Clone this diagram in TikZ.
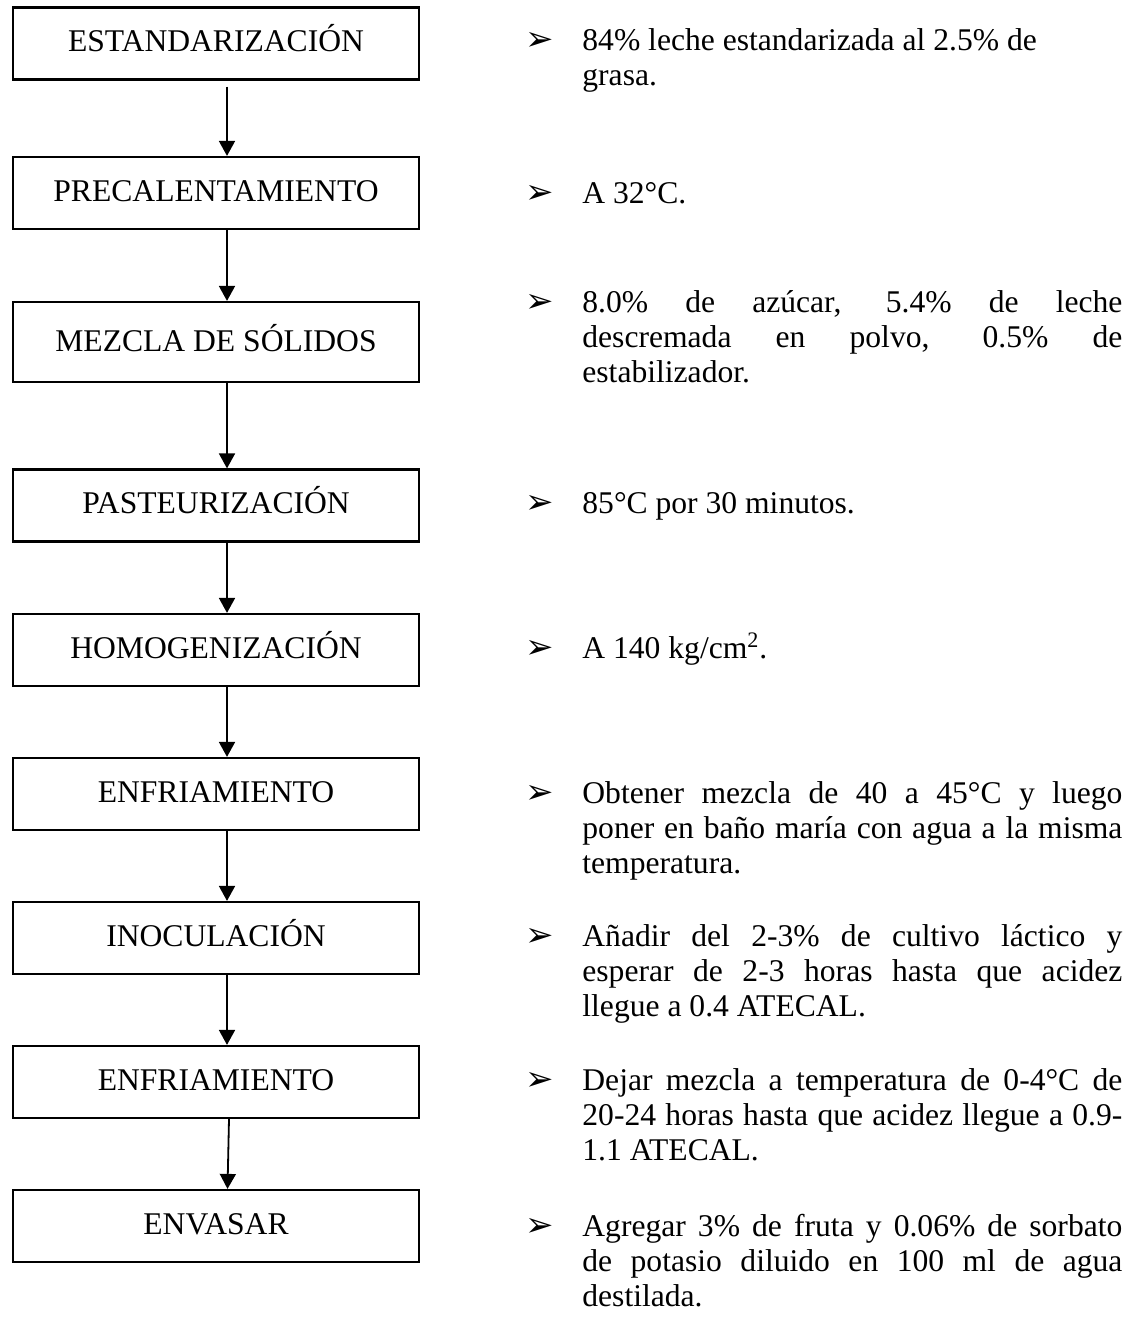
\documentclass[tikz,border=0pt]{standalone}
\usepackage{fontspec}
\setmainfont{Liberation Serif}
\newfontfamily\dingfont{DejaVu Sans}
\usetikzlibrary{arrows.meta,positioning}

\newcommand{\bul}{\llap{{\dingfont\fontsize{17}{17}\selectfont ➢}\hspace{14pt}}}

\begin{document}
\begin{tikzpicture}[x=0.5pt,y=-0.5pt]
			\tikzset{
				stepbox/.style={draw, line width=1.1pt, minimum width=203pt, minimum height=36pt, inner sep=0pt, text height=11.5pt, text depth=3.5pt, font={\fontsize{15.8}{17.5}\selectfont}},
				arrow/.style={-{Triangle[length=7.5pt,width=8pt]}, line width=0.9pt},
				note/.style={anchor=base west, inner sep=0pt, text width=270pt, align=justify, font={\fontsize{15.8}{17.5}\selectfont}},
			}
			\useasboundingbox (0,0) rectangle (1132,1318);

			\node[stepbox] (estand) at (216,43.5) {ESTANDARIZACIÓN};
			\node[stepbox] (precal) at (216,193) {PRECALENTAMIENTO};
			\node[stepbox, minimum height=40pt, text height=12.5pt] (mezcla) at (216,342) {MEZCLA DE SÓLIDOS};
			\node[stepbox] (pasteur) at (216,505.5) {PASTEURIZACIÓN};
			\node[stepbox] (homog) at (216,650) {HOMOGENIZACIÓN};
			\node[stepbox] (enfrA) at (216,794) {ENFRIAMIENTO};
			\node[stepbox] (inoc) at (216,938) {INOCULACIÓN};
			\node[stepbox] (enfrB) at (216,1082) {ENFRIAMIENTO};
			\node[stepbox] (envas) at (216,1226) {ENVASAR};

			\draw[arrow, shorten <=3pt] ([xshift=5.5pt]estand.south) -- ([xshift=5.5pt]precal.north);
			\foreach \a/\b in {precal/mezcla, mezcla/pasteur, pasteur/homog, homog/enfrA, enfrA/inoc, inoc/enfrB}
				{
					\draw[arrow] ([xshift=5.5pt]\a.south) -- ([xshift=5.5pt]\b.north);
				}
			\draw[arrow] ([xshift=6.5pt]enfrB.south) -- ([xshift=5.75pt]envas.north);

			\node[note] (nestand) at (582,50) {\bul 84\% leche estandarizada al 2.5\% de\newline grasa.};
			\node[note] (nprecal) at (582,203) {\bul A 32°C.};
			\node[note] (nmezcla) at (582,312) {\bul 8.0\% de azúcar, 5.4\% de leche\linebreak descremada en polvo, 0.5\% de\linebreak estabilizador.};
			\node[note] (npasteur) at (582,513) {\bul 85°C por 30 minutos.};
			\node[note] (nhomog) at (582,658) {\bul A 140 kg/cm\textsuperscript{2}.};
			\node[note] (nenfrA) at (582,803) {\bul Obtener mezcla de 40 a 45°C y luego\linebreak poner en baño maría con agua a la misma\linebreak temperatura.};
			\node[note] (ninoc) at (582,946) {\bul Añadir del 2-3\% de cultivo láctico y\linebreak esperar de 2-3 horas hasta que acidez\linebreak llegue a 0.4 ATECAL.};
			\node[note] (nenfrB) at (582,1090) {\bul Dejar mezcla a temperatura de 0-4°C de\linebreak 20-24 horas hasta que acidez llegue a 0.9-\linebreak 1.1 ATECAL.};
			\node[note] (nenvas) at (582,1236) {\bul Agregar 3\% de fruta y 0.06\% de sorbato\linebreak de potasio diluido en 100 ml de agua\linebreak destilada.};

		\end{tikzpicture}
\end{document}
